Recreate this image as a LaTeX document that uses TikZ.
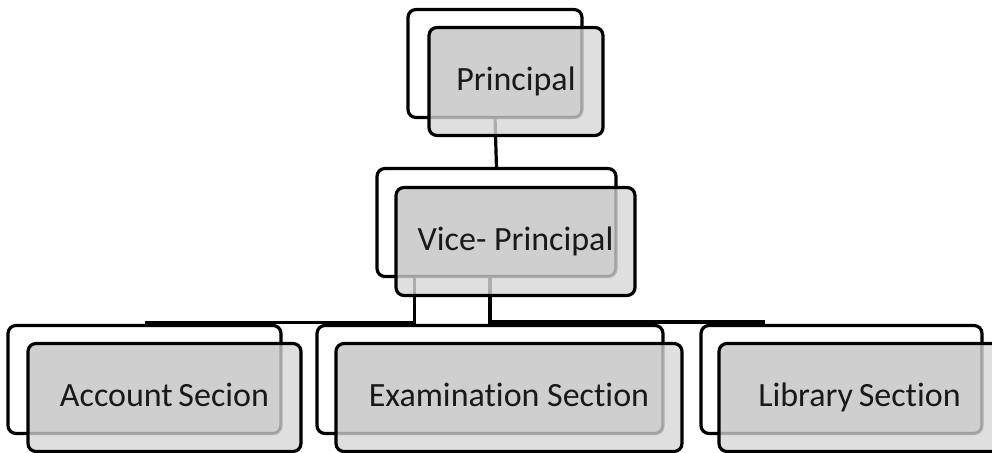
\documentclass[tikz,border=0pt]{standalone}
\usepackage{fontspec}
\setmainfont[Ligatures=NoCommon]{Carlito}
\begin{document}
\begin{tikzpicture}[x=1pt,y=-1pt,
  box/.style={rectangle, rounded corners=8pt, line width=3.2pt, outer sep=0pt, inner sep=0pt, minimum height=108pt},
  backbox/.style={box, draw=black, fill=white},
  frontbox/.style={box, draw=black, fill={rgb,255:red,215;green,215;blue,215}, fill opacity=0.8, text opacity=1,
    text={rgb,255:red,25;green,25;blue,25},
    font=\fontsize{34}{40}\selectfont, text height=23pt, text depth=6pt,
    path picture={\fill[black, fill opacity=0.07, rounded corners=8pt] (#1.south west) rectangle (#1.north east);}},
  conn/.style={line width=3.2pt, draw=black},
]
\useasboundingbox (0,0) rectangle (992,452);
\clip (0,0) rectangle (992,452);

% back boxes
\node[backbox, minimum width=174pt] (pb) at (495,63.5) {};
\node[backbox, minimum width=239pt] (vb) at (496.5,222.5) {};
\node[backbox, minimum width=273pt] (ab) at (144.5,379.5) {};
\node[backbox, minimum width=346pt] (eb) at (490,379.5) {};
\node[backbox, minimum width=281pt] (lb) at (841.5,379.5) {};

% connectors
\coordinate (rend) at (765,322);
\draw[conn] (pb.south) -- (vb.north);
\draw[conn] ([xshift=-82pt]vb.south) |- ([yshift=3pt]ab.north);
\draw[conn] (vb.south -| eb.north) -- (eb.north);
\draw[conn] (eb.north |- rend) -- (rend);

% front boxes
\node[frontbox=pb, minimum width=174pt] (p) at ([shift={(21,18)}]pb.center) {Principal};
\node[frontbox=vb, minimum width=239pt] (v) at ([shift={(19,19)}]vb.center) {Vice- Principal};
\node[frontbox=ab, minimum width=273pt] (a) at ([shift={(20,18)}]ab.center) {Account\hspace{-2pt} Secion};
\node[frontbox=eb, minimum width=346pt] (e) at ([shift={(19,18)}]eb.center) {Examination Section};
\node[frontbox=lb, minimum width=281pt] (l) at ([shift={(18,18)}]lb.center) {Library\hspace{-2pt} Section};
\end{tikzpicture}
\end{document}
